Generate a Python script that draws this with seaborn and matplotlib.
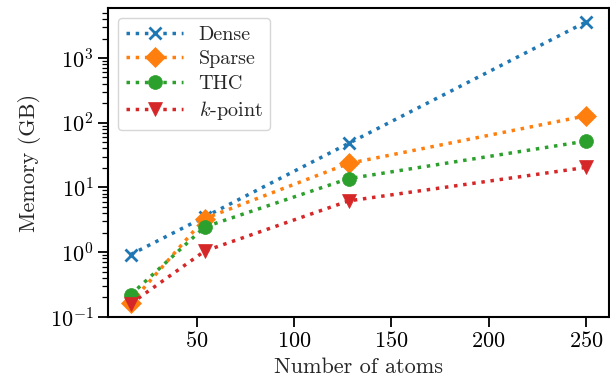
import numpy as np
import pandas as pd
import matplotlib
matplotlib.use("Agg")
import matplotlib.pyplot as plt
from matplotlib.ticker import LogLocator
import seaborn as sns

# data
atoms = [16, 54, 128, 250]
dense = [0.92, 3.5, 48, 3600]
sparse = [0.165, 3.3, 23.5, 128]
thc = [0.22, 2.45, 13.7, 52]
kpoint = [0.16, 1.04, 6.2, 20.4]

series = [("Dense", dense, "x"), ("Sparse", sparse, "D"),
          ("THC", thc, "o"), ("$k$-point", kpoint, "v")]

sns.set_theme(style="ticks")
plt.rcParams["font.family"] = ["cmr10", "DejaVu Serif"]
plt.rcParams["mathtext.fontset"] = "cm"
plt.rcParams["axes.formatter.use_mathtext"] = True

fs = 16
fig = plt.figure(figsize=(6.1, 3.86), dpi=100)
ax = fig.add_axes([0.177, 0.179, 0.821, 0.8])

colors = sns.color_palette("tab10")
for i, (name, vals, mk) in enumerate(series):
    sns.lineplot(x=atoms, y=vals, ax=ax, color=colors[i], marker=mk, linestyle=":",
                 linewidth=2.5, markersize=10 if mk != "x" else 9,
                 markeredgecolor=colors[i], markerfacecolor=colors[i],
                 markeredgewidth=2 if mk == "x" else 0.5, label=name)

ax.set_yscale("log")
ax.set_ylim(0.1, 5900)
ax.yaxis.set_minor_locator(LogLocator(base=10, subs=np.arange(2, 10), numticks=100))
ax.set_xlabel("Number of atoms", fontsize=fs, labelpad=4)
ax.set_ylabel("Memory (GB)", fontsize=fs, labelpad=6)
ax.tick_params(labelsize=fs, colors="black", width=1.3, length=7)
ax.tick_params(axis="y", which="minor", length=4.5, width=0.9, colors="black")
for s in ax.spines.values():
    s.set_color("black")
    s.set_linewidth(1.5)
ax.legend(loc="upper left", fontsize=14.5, handlelength=2.85, handletextpad=0.75,
          labelspacing=0.3, frameon=True)

fig.savefig("out.png", dpi=100)
